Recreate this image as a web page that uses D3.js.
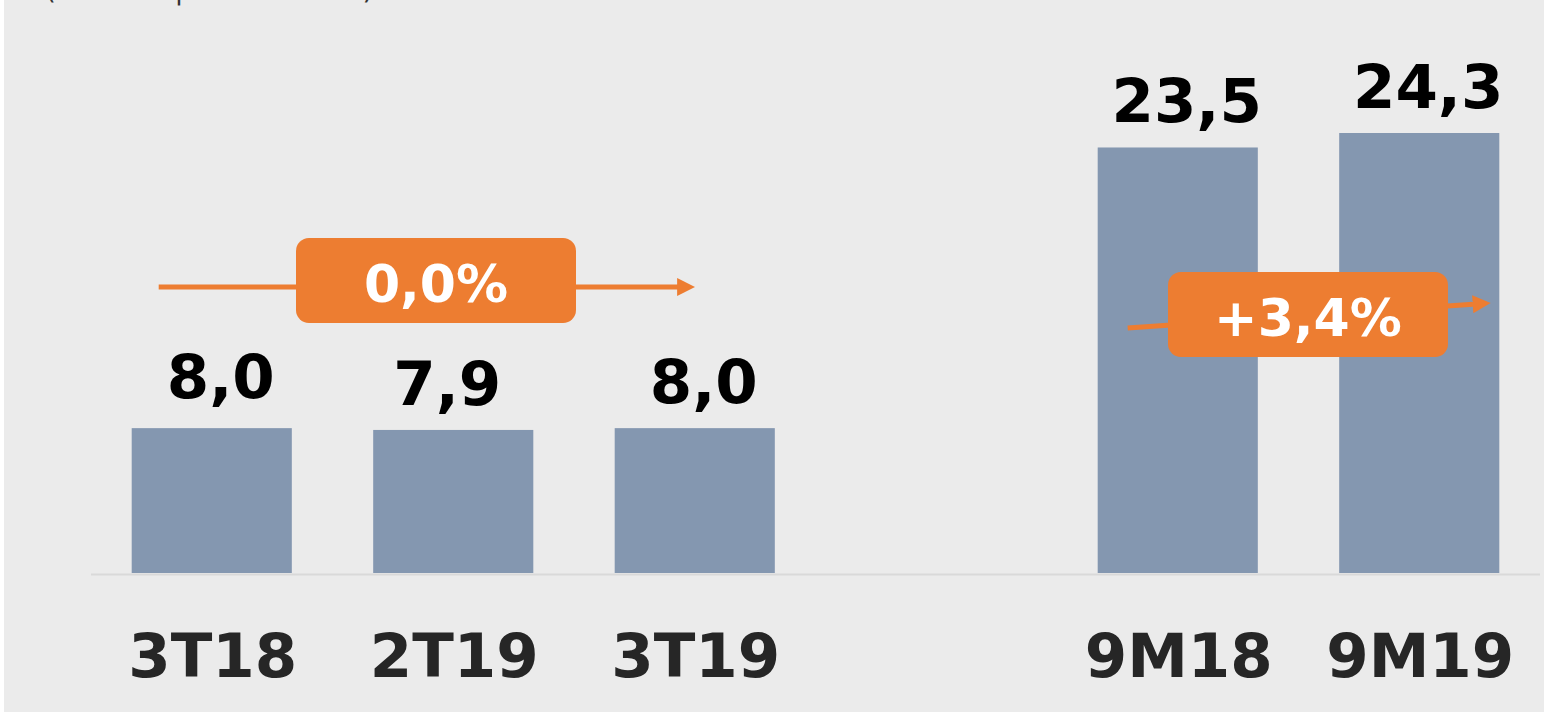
<!DOCTYPE html>
<html>
<head>
<meta charset="utf-8">
<script src="https://cdn.jsdelivr.net/npm/d3@7"></script>
<style>
  html, body { margin: 0; padding: 0; background: #fff; }
  svg { display: block; }
  text { font-family: "DejaVu Sans", sans-serif; }
</style>
</head>
<body>
<svg width="1544" height="712"></svg>
<script>
// periods and values (the blank slot is the gap between quarter and 9M groups)
const categories = ['3T18', '2T19', '3T19', '', '9M18', '9M19'];
const values = [8.0, 7.9, 8.0, null, 23.5, 24.3];
const valueLabels = ['8,0', '7,9', '8,0', '', '23,5', '24,3'];

// growth callouts: from -> to category
const changes = [
    { from: '3T18', to: '3T19', label: '0,0%' },
    { from: '9M18', to: '9M19', label: '+3,4%' }
];

const width = 1544;
const height = 712;
const baseY = 573;
const orange = '#ed7d31';

const svg = d3.select('svg');

svg.append('rect')
    .attr('x', 4).attr('y', 0)
    .attr('width', width - 4).attr('height', height)
    .attr('fill', '#ebebeb');

// subtitle, mostly cropped off at the top edge
svg.append('text')
    .attr('x', 45).attr('y', -1)
    .attr('font-size', 28)
    .attr('fill', '#333')
    .text('(milhões | acumulados)');

const x = d3.scaleBand()
    .domain(categories)
    .range([91, 1540])
    .paddingInner(0.337)
    .paddingOuter(0.1685);

const y = d3.scaleLinear()
    .domain([0, 24.3])
    .range([baseY, 133]);

const data = categories.map((c, i) => ({ cat: c, value: values[i], label: valueLabels[i] }))
    .filter(d => d.value !== null);

// baseline
svg.append('line')
    .attr('x1', 91).attr('x2', 1540)
    .attr('y1', baseY + 1.5).attr('y2', baseY + 1.5)
    .attr('stroke', '#d9d9d9')
    .attr('stroke-width', 2);

svg.append('g')
    .selectAll('rect')
    .data(data)
    .enter().append('rect')
    .attr('x', d => x(d.cat))
    .attr('y', d => y(d.value))
    .attr('width', x.bandwidth())
    .attr('height', d => baseY - y(d.value))
    .attr('fill', '#8497b0');

// value labels sit slightly off the bar centre, as in the source slide
svg.append('g')
    .selectAll('text')
    .data(data)
    .enter().append('text')
    .attr('x', (d, i) => x(d.cat) + x.bandwidth() / 2 + (i === 1 ? -6 : 9))
    .attr('y', (d, i) => y(d.value) - (i === 0 ? 30 : 25))
    .attr('text-anchor', 'middle')
    .attr('font-size', 61)
    .attr('font-weight', 'bold')
    .attr('fill', '#000')
    .text(d => d.label);

svg.append('g')
    .selectAll('text')
    .data(data)
    .enter().append('text')
    .attr('x', d => x(d.cat) + x.bandwidth() / 2 + 1)
    .attr('y', 677)
    .attr('text-anchor', 'middle')
    .attr('font-size', 61)
    .attr('font-weight', 'bold')
    .attr('fill', '#262626')
    .text(d => d.cat);

// arrow marker (triangle overhangs line end so the butt does not show)
svg.append('defs').append('marker')
    .attr('id', 'arrow')
    .attr('viewBox', '0 0 10 10')
    .attr('refX', 2).attr('refY', 5)
    .attr('markerWidth', 3.6).attr('markerHeight', 3.6)
    .attr('orient', 'auto')
    .attr('markerUnits', 'strokeWidth')
    .append('path')
    .attr('d', 'M0,0 L10,5 L0,10 z')
    .attr('fill', orange);

// callout geometry relative to bar positions
const callouts = [
    { x1: x(changes[0].from) + 27, y1: 287, x2: x(changes[0].to) + x.bandwidth() / 2 - 14, y2: 287,
      boxX: 296, boxY: 238, label: changes[0].label },
    { x1: x(changes[1].from) + 30, y1: 328, x2: x(changes[1].to) + x.bandwidth() - 23, y2: 304,
      boxX: 1168, boxY: 272, label: changes[1].label }
];

const cg = svg.append('g')
    .selectAll('g')
    .data(callouts)
    .enter().append('g');

cg.append('line')
    .attr('x1', d => d.x1).attr('y1', d => d.y1)
    .attr('x2', d => d.x2).attr('y2', d => d.y2)
    .attr('stroke', orange)
    .attr('stroke-width', 5)
    .attr('marker-end', 'url(#arrow)');

cg.append('rect')
    .attr('x', d => d.boxX).attr('y', d => d.boxY)
    .attr('width', 280).attr('height', 85)
    .attr('rx', 13)
    .attr('fill', orange);

cg.append('text')
    .attr('x', d => d.boxX + 140)
    .attr('y', d => d.boxY + 64)
    .attr('text-anchor', 'middle')
    .attr('font-size', 52)
    .attr('font-weight', 'bold')
    .attr('fill', '#fff')
    .text(d => d.label);
</script>
</body>
</html>
